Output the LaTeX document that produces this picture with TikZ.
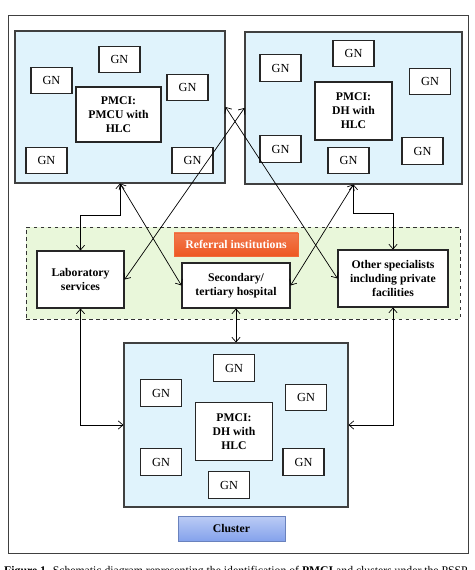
\documentclass[tikz,border=0pt]{standalone}
\usepackage{fontspec}
\setmainfont{Liberation Serif}
\usetikzlibrary{positioning, arrows.meta, fit}

\definecolor{areablue}{RGB}{224,243,252}
\definecolor{areagreen}{RGB}{233,247,218}
\definecolor{refred}{RGB}{238,88,34}
\definecolor{clusterblue}{RGB}{132,162,236}

\begin{document}
\begin{tikzpicture}[x=0.03cm, y=-0.03cm, font=\fontsize{9.5}{13.5}\selectfont,
    >={Straight Barb[length=4pt,width=7pt]}]

    % Styles
    \tikzstyle{frame} = [draw=black!75, line width=0.8pt]
    \tikzstyle{area} = [draw=black!75, fill=areablue, line width=0.9pt, inner sep=0pt]
    \tikzstyle{gn} = [draw=black!85, fill=white, line width=0.9pt, font=\fontsize{10.5}{12}\selectfont, minimum width=1.23cm, minimum height=0.8cm, inner sep=1pt]
    \tikzstyle{pmci} = [draw=black!85, fill=white, line width=0.9pt, font=\bfseries, align=center, minimum width=2.31cm, minimum height=1.74cm, inner sep=1pt]
    \tikzstyle{inst} = [draw=black!85, fill=white, line width=0.9pt, font=\bfseries, align=center, inner sep=1pt]
    \tikzstyle{link} = [<->, black, line width=0.6pt]

    \path[use as bounding box, clip] (0,0) rectangle (474,570);

    % Outer frame
    \draw[frame] (8,15) rectangle (468,553);

    % --- TOP LEFT: PMCU ---
    \node[area, fit={(15,31) (225,183)}] (tl) {};
    \node[gn] (tl1) at (119.5,59.5) {GN};
    \node[gn] (tl2) at (51.5,80.5) {GN};
    \node[gn] (tl3) at (187.5,87.5) {GN};
    \node[pmci, minimum width=2.55cm, minimum height=1.65cm] (tlp) at (118.5,114.5) {PMCI:\\PMCU with\\HLC};
    \node[gn] (tl4) at (46.5,160.5) {GN};
    \node[gn] (tl5) at (192.5,160.5) {GN};

    % --- TOP RIGHT: DH ---
    \node[area, fit={(245,32) (462,184)}] (tr) {};
    \node[gn] (tr1) at (353.5,53.5) {GN};
    \node[gn] (tr2) at (280.5,68) {GN};
    \node[gn] (tr3) at (430,81.5) {GN};
    \node[pmci] (trp) at (353.5,111) {PMCI:\\DH with\\HLC};
    \node[gn] (tr4) at (280.5,149) {GN};
    \node[gn] (tr5) at (348.5,160.5) {GN};
    \node[gn] (tr6) at (422.5,151) {GN};

    % --- REFERRAL INSTITUTIONS ---
    \node[draw=black!80, dashed, fill=areagreen, line width=0.8pt, inner sep=0pt, fit={(26,227) (460,319)}] (ref) {};
    \node[top color=refred!80, bottom color=refred, draw=refred!90!white, text=white, font=\bfseries,
        minimum width=3.72cm, minimum height=0.69cm, inner sep=1pt] (reflbl) at (236,244.5) {Referral institutions};
    \node[inst, minimum width=2.61cm, minimum height=1.71cm] (lab) at (80.5,279.5) {Laboratory\\services};
    \node[inst, minimum width=3.24cm, minimum height=1.35cm] (sec) at (236,285.5) {Secondary/\\tertiary hospital};
    \node[inst, minimum width=3.3cm, minimum height=1.71cm] (oth) at (393,278.5) {Other specialists\\including private\\facilities};

    % --- BOTTOM: CLUSTER DH ---
    \node[area, fit={(124,343) (348,507)}] (bot) {};
    \node[gn] (bt1) at (234,368) {GN};
    \node[gn] (bt2) at (161,393) {GN};
    \node[gn] (bt3) at (306,397.5) {GN};
    \node[pmci] (btp) at (234,431.5) {PMCI:\\DH with\\HLC};
    \node[gn] (bt4) at (161,462) {GN};
    \node[gn] (bt5) at (303.5,462) {GN};
    \node[gn] (bt6) at (229,485) {GN};
    \node[top color=clusterblue!55, bottom color=clusterblue, draw=clusterblue!80!black, font=\bfseries,
        minimum width=3.21cm, minimum height=0.75cm, inner sep=1pt] (clu) at (231.5,528.5) {Cluster};

    % --- LINKS ---
    \draw[link] (tl.south) -- ++(0,32) -| (lab.north);
    \draw[link] (tl.south) -- (sec.west);
    \draw[link] (tl.east) -- (oth.west);
    \draw[link] (tr.west) -- (lab.east);
    \draw[link] (tr.south) -- (sec.east);
    \draw[link] (tr.south) -- ++(0,29) -| (oth.north);
    \draw[link] (sec.south) -- (bot.north);
    \draw[link] (lab.south) |- (bot.west);
    \draw[link] (oth.south) |- (bot.east);

    % Caption (cut off at the bottom edge, as in the source)
    \node[anchor=base west, inner sep=0pt, font=\fontsize{10}{12}\selectfont] (cap) at (4,574)
        {\textbf{Figure 1.} Schematic diagram representing the identification of \textbf{PMCI} and clusters under the PSSP.};

\end{tikzpicture}
\end{document}
